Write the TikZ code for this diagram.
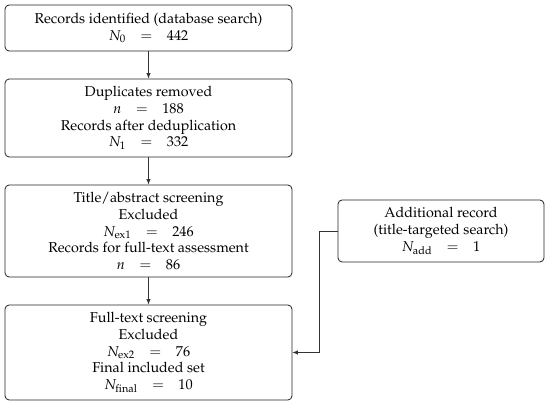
\documentclass[tikz,border=0pt]{standalone}
\usepackage[T1]{fontenc}
\usepackage{mathpazo}
\usetikzlibrary{arrows.meta}
\newcommand{\eqln}[2]{$#1$\hspace{10.5pt}$=$\hspace{10.5pt}$#2$}
\begin{document}
\begin{tikzpicture}[x=0.7273pt,y=-0.7273pt,
  box/.style={draw=black!85, rounded corners=3pt, line width=0.6pt, align=center,
    minimum width=208.7pt, inner sep=0pt, font=\fontsize{10.4}{12.2}\selectfont},
  sidebox/.style={box, minimum width=149.8pt},
  arr/.style={draw=black!80, -{Latex[length=4pt,width=3.2pt]}, line width=0.55pt}]
\useasboundingbox (0,0) rectangle (550,405);
\node[box, minimum height=33.45pt] (b1) at (148.5,28)
  {Records identified (database search)\\ \eqln{N_0}{442}};
\node[box, minimum height=56.7pt] (b2) at (148.5,118)
  {Duplicates removed\\ \eqln{n}{188}\\ Records after deduplication\\ \eqln{N_1}{332}};
\node[box, minimum height=66.9pt] (b3) at (148.5,231)
  {Title/abstract screening\\ Excluded\\ \eqln{N_{\mathrm{ex1}}}{246}\\ Records for full-text assessment\\ \eqln{n}{86}};
\node[box, minimum height=69.1pt] (b4) at (148.5,352.5)
  {Full-text screening\\ Excluded\\ \eqln{N_{\mathrm{ex2}}}{76}\\ Final included set\\ \eqln{N_{\mathrm{final}}}{10}};
\node[sidebox, minimum height=45.1pt] (add) at (441,231)
  {Additional record\\ (title-targeted search)\\ \eqln{N_{\mathrm{add}}}{1}};
\draw[arr] (b1) -- (b2);
\draw[arr] (b2) -- (b3);
\draw[arr] (b3) -- (b4);
\draw[arr] (add.west) -- ++(-18,0) |- (b4.east);
\end{tikzpicture}
\end{document}
